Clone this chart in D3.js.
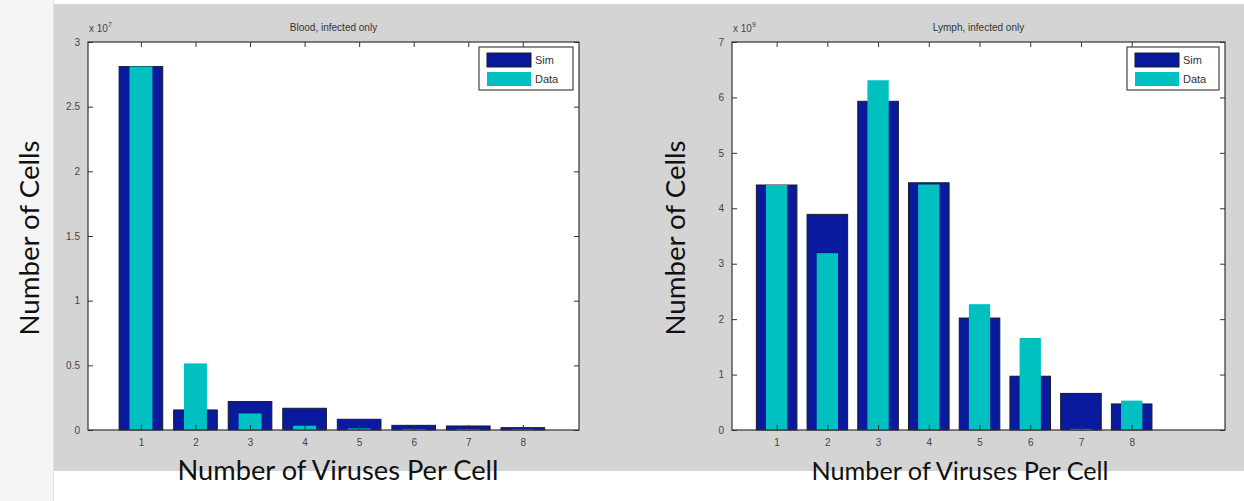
<!DOCTYPE html>
<html>
<head>
<meta charset="utf-8">
<script src="https://cdn.jsdelivr.net/npm/d3@7"></script>
<style>
  body { margin: 0; background: #fff; }
  svg { display: block; }
</style>
</head>
<body>
<script>
// data (values in units of the axis multiplier)
const categories = [1, 2, 3, 4, 5, 6, 7, 8];
const bloodSim  = [2.81, 0.155, 0.22, 0.168, 0.083, 0.036, 0.031, 0.018];
const bloodData = [2.81, 0.515, 0.128, 0.033, 0.012, 0.008, 0.007, 0.006];
const lymphSim  = [4.42, 3.89, 5.93, 4.46, 2.02, 0.97, 0.66, 0.47];
const lymphData = [4.42, 3.19, 6.31, 4.43, 2.27, 1.66, 0.02, 0.53];
const bloodTicks = [0, 0.5, 1, 1.5, 2, 2.5, 3];
const lymphTicks = [0, 1, 2, 3, 4, 5, 6, 7];
const seriesNames = ['Sim', 'Data'];

const W = 1244, H = 501;
const SIM = '#0a1a9c', DATA = '#00c0c0';
const tickFont = '"Liberation Sans", Arial, sans-serif';
const labelFont = 'Lato, "Open Sans", sans-serif';

const svg = d3.select('body').append('svg')
  .attr('width', W)
  .attr('height', H);

// page background: light strip on the left, gray figure band
svg.append('rect').attr('width', W).attr('height', H).attr('fill', '#ffffff');
svg.append('rect').attr('x', 0).attr('y', 0).attr('width', 53).attr('height', H).attr('fill', '#f5f5f5');
svg.append('line').attr('x1', 53.5).attr('x2', 53.5).attr('y1', 0).attr('y2', H)
  .attr('stroke', '#e2e2e2');
svg.append('rect').attr('x', 54).attr('y', 4).attr('width', W - 54).attr('height', 467)
  .attr('fill', '#d4d4d4');

function drawPanel(cfg) {
  const x = d3.scaleLinear().domain(cfg.xlim).range([cfg.left, cfg.right]);
  const y = d3.scaleLinear().domain(cfg.ylim).range([cfg.bottom, cfg.top]);
  const g = svg.append('g');

  // plot area
  g.append('rect')
    .attr('x', cfg.left).attr('y', cfg.top)
    .attr('width', cfg.right - cfg.left).attr('height', cfg.bottom - cfg.top)
    .attr('fill', '#fff');

  // sim bars (wide) then data bars (narrow) on top
  g.append('g').selectAll('rect')
    .data(categories)
    .enter()
    .append('rect')
    .attr('x', (d) => x(d - 0.4))
    .attr('width', (d) => x(d + 0.4) - x(d - 0.4))
    .attr('y', (d, i) => y(cfg.sim[i]))
    .attr('height', (d, i) => y(0) - y(cfg.sim[i]))
    .attr('fill', SIM)
    .attr('stroke', '#1a1a2a')
    .attr('stroke-width', 1);

  g.append('g').selectAll('rect')
    .data(categories)
    .enter()
    .append('rect')
    .attr('x', (d) => x(d - 0.21))
    .attr('width', (d) => x(d + 0.21) - x(d - 0.21))
    .attr('y', (d, i) => y(cfg.data[i]))
    .attr('height', (d, i) => y(0) - y(cfg.data[i]))
    .attr('fill', DATA);

  // axes (MATLAB style, ticks inside, box on)
  const tl = 5;
  const axB = g.append('g').attr('transform', `translate(0,${cfg.bottom})`)
    .call(d3.axisBottom(x).tickValues(categories).tickSizeInner(-tl).tickSizeOuter(0).tickPadding(9));
  const axT = g.append('g').attr('transform', `translate(0,${cfg.top})`)
    .call(d3.axisTop(x).tickValues(categories).tickSizeInner(-tl).tickSizeOuter(0).tickFormat(''));
  const axL = g.append('g').attr('transform', `translate(${cfg.left},0)`)
    .call(d3.axisLeft(y).tickValues(cfg.yticks).tickSizeInner(-tl).tickSizeOuter(0).tickPadding(8)
      .tickFormat(d3.format('')));
  const axR = g.append('g').attr('transform', `translate(${cfg.right},0)`)
    .call(d3.axisRight(y).tickValues(cfg.yticks).tickSizeInner(-tl).tickSizeOuter(0).tickFormat(''));
  [axB, axT, axL, axR].forEach((a) => {
    a.select('.domain').remove();
    a.selectAll('line').attr('stroke', '#333');
    a.selectAll('text')
      .attr('fill', '#444')
      .style('font-family', tickFont)
      .style('font-size', '10px');
  });

  // box
  g.append('rect')
    .attr('x', cfg.left).attr('y', cfg.top)
    .attr('width', cfg.right - cfg.left).attr('height', cfg.bottom - cfg.top)
    .attr('fill', 'none')
    .attr('stroke', '#333')
    .attr('stroke-width', 1.2);

  // exponent
  const ex = g.append('text')
    .attr('x', cfg.left + 1).attr('y', cfg.top - 10)
    .attr('fill', '#444')
    .style('font-family', tickFont)
    .style('font-size', '10px');
  ex.append('tspan').text('x 10');
  ex.append('tspan').attr('dy', -5).style('font-size', '7px').text(cfg.exp);

  // title
  g.append('text')
    .attr('x', (cfg.left + cfg.right) / 2).attr('y', cfg.top - 11)
    .attr('text-anchor', 'middle')
    .attr('fill', '#333')
    .style('font-family', tickFont)
    .style('font-size', '10px')
    .text(cfg.title);

  // legend
  const lg = g.append('g').attr('transform', `translate(${cfg.right - cfg.legW - 6},${cfg.top + 5})`);
  lg.append('rect').attr('width', cfg.legW).attr('height', 43)
    .attr('fill', '#fff').attr('stroke', '#444').attr('stroke-width', 1.2);
  [SIM, DATA].forEach((c, i) => {
    lg.append('rect')
      .attr('x', 8).attr('y', 6 + i * 19)
      .attr('width', 44).attr('height', 14)
      .attr('fill', c)
      .attr('stroke', i === 0 ? '#1a1a2a' : 'none');
    lg.append('text')
      .attr('x', 56).attr('y', 17 + i * 19)
      .attr('fill', '#333')
      .style('font-family', tickFont)
      .style('font-size', '11px')
      .text(seriesNames[i]);
  });

  // big axis labels
  const xl = svg.append('text')
    .attr('x', cfg.xlabelX).attr('y', 480)
    .attr('text-anchor', 'middle')
    .attr('fill', '#111')
    .style('font-family', labelFont)
    .style('font-size', '26px')
    .text('Number of Viruses Per Cell');
  fitWidth(xl, cfg.xlabelW);

  const yl = svg.append('text')
    .attr('transform', `translate(${cfg.ylabelX},238) rotate(-90)`)
    .attr('text-anchor', 'middle')
    .attr('fill', '#111')
    .style('font-family', labelFont)
    .style('font-size', '26px')
    .text('Number of Cells');
  fitWidth(yl, 195);
}

function fitWidth(sel, target) {
  const w = sel.node().getComputedTextLength();
  sel.style('font-size', (26 * target / w).toFixed(2) + 'px');
}

drawPanel({
  left: 88, right: 579, top: 42, bottom: 430,
  xlim: [0.03, 9.03], ylim: [0, 3],
  yticks: bloodTicks, sim: bloodSim, data: bloodData,
  exp: '7', title: 'Blood, infected only', legW: 94,
  xlabelX: 338, xlabelW: 321, ylabelX: 39
});

drawPanel({
  left: 732, right: 1225, top: 42, bottom: 430,
  xlim: [0.12, 9.84], ylim: [0, 7],
  yticks: lymphTicks, sim: lymphSim, data: lymphData,
  exp: '9', title: 'Lymph, infected only', legW: 92,
  xlabelX: 960, xlabelW: 297, ylabelX: 685
});
</script>
</body>
</html>
